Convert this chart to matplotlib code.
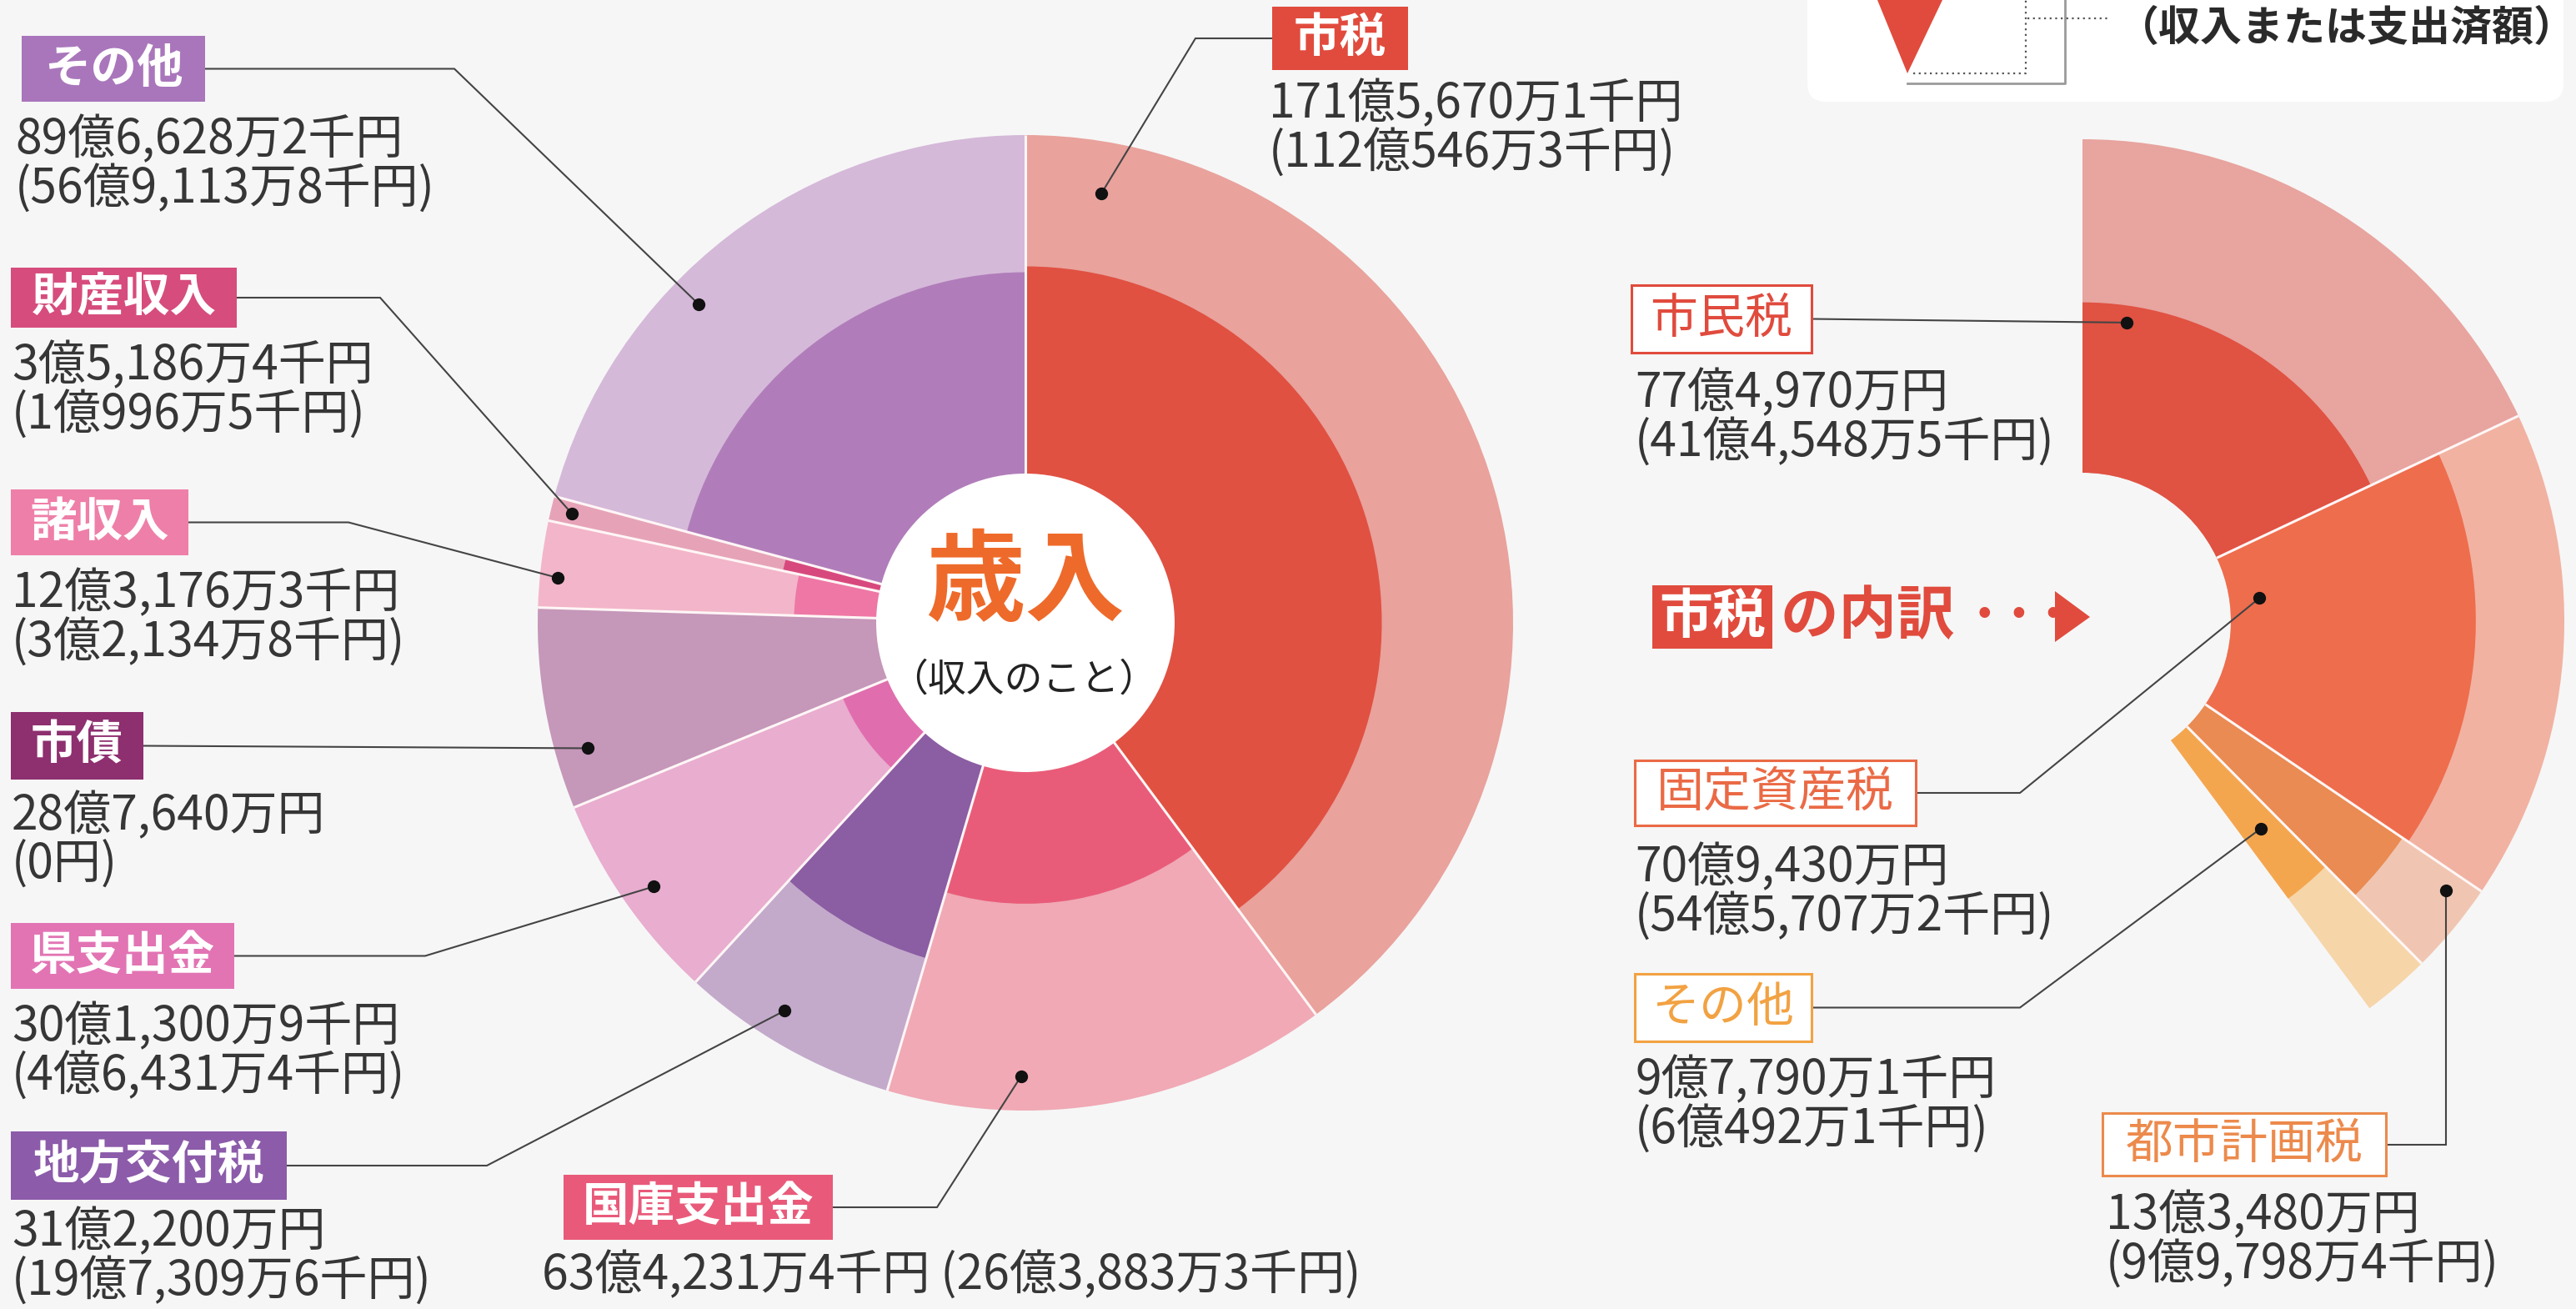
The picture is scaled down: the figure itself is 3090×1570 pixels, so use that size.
import numpy as np
import matplotlib
matplotlib.use("Agg")
import matplotlib.pyplot as plt
from matplotlib.patches import Rectangle, Circle, Polygon, FancyBboxPatch

plt.rcParams['font.family'] = ['Noto Sans CJK JP', 'DejaVu Sans']

# ---------------- data (unit: 千円) ----------------
rev_names = ['市税', '国庫支出金', '地方交付税', '県支出金', '市債', '諸収入', '財産収入', 'その他']
rev_budget = [17156701, 6342314, 3122000, 3013009, 2876400, 1231763, 351864, 8966282]
rev_actual = [11205463, 2638833, 1973096, 464314, 0, 321348, 109965, 5691138]

tax_names = ['市民税', '固定資産税', '都市計画税', 'その他']
tax_budget = [7749700, 7094300, 1334800, 977901]
tax_actual = [4145485, 5457072, 997984, 604921]

# ---------------- styles ----------------
rev_outer_cols = ['#E9A29C', '#F0A9B5', '#C3AACB', '#E8ADCF', '#C597B9', '#F3B5C9', '#E6A3B8', '#D5B9D9']
rev_inner_cols = ['#E05142', '#E95C79', '#8B5DA3', '#E06EAE', '#C597B9', '#EE77A5', '#D7497D', '#B07DBA']
rev_label_cols = ['#E04B3D', '#E95A7A', '#8C5BAA', '#E274B4', '#8E2F6F', '#EE7FA8', '#D64C7D', '#A976BB']

tax_outer_cols = ['#E8A49F', '#F1B2A2', '#F0C6B2', '#F6D5A9']
tax_inner_cols = ['#E05242', '#EE6D4D', '#E98B52', '#F4A64F']
tax_label_cols = ['#E04B3D', '#EA6A45', '#EC8A4C', '#F2A242']

W, H = 3090, 1570
BG = '#F6F6F6'
TXT = '#363636'
LINE = '#444444'


def Y(y):
    return H - y


def fmt(v):
    if v == 0:
        return '0円'
    oku, rest = divmod(v, 100000)
    man, sen = divmod(rest, 10)
    s = ''
    if oku:
        s += f'{oku}億'
    if man:
        s += f'{man:,}万'
    if sen:
        s += f'{sen}千'
    return s + '円'


fig = plt.figure(figsize=(W / 100, H / 100), dpi=100)
fig.patch.set_facecolor(BG)
ax = fig.add_axes([0, 0, 1, 1])
ax.set_facecolor(BG)


def double_ring(values, center, R, r0, R1, outer_cols, inner_cols, ratios, normalize=True, full=True):
    kw = dict(radius=R, center=center, startangle=90, counterclock=False, normalize=normalize)
    outer, _ = ax.pie(values, colors=outer_cols, wedgeprops=dict(width=R - r0, linewidth=0), **kw)
    inner, _ = ax.pie(values, colors=inner_cols, wedgeprops=dict(width=R - r0, linewidth=0), **kw)
    for w, q in zip(inner, ratios):
        r = r0 + q * (R1 - r0)
        w.set_radius(r)
        w.set_width(r - r0)
        if q <= 0:
            w.set_visible(False)
    # separators between wedges
    bounds = [w.theta2 for w in outer] if full else [w.theta1 for w in outer[:-1]]
    for th in bounds:
        t = np.deg2rad(th)
        ax.plot([center[0] + r0 * np.cos(t), center[0] + R * np.cos(t)],
                [center[1] + r0 * np.sin(t), center[1] + R * np.sin(t)],
                color='#FFF6F6', lw=2.2, zorder=2, solid_capstyle='butt')
    return outer


def anchor(w, center, frac, r):
    th = np.deg2rad(w.theta2 - frac * (w.theta2 - w.theta1))
    return center[0] + r * np.cos(th), center[1] + r * np.sin(th)


# ---------------- main pie ----------------
cmain = (1230, Y(747))
Rm, r0m, R1m = 585, 178, 560
rev_ratio = [a / b for a, b in zip(rev_actual, rev_budget)]
main_w = double_ring(rev_budget, cmain, Rm, r0m, R1m, rev_outer_cols, rev_inner_cols, rev_ratio)
ax.add_patch(Circle(cmain, r0m + 1, fc='white', ec='none', zorder=3))
ax.text(cmain[0], Y(700), '歳入', fontsize=86, fontweight='bold', color='#EE6A2A',
        ha='center', va='center', zorder=6)
ax.text(cmain[0] - 2, Y(815), '（収入のこと）', fontsize=33, color='#222222',
        ha='center', va='center', zorder=6)

# ---------------- breakdown pie (市税) ----------------
ctax = (2498, Y(745))
Rt, r0t, R1t = 578, 178, 560
total_rev = sum(rev_budget)
tax_frac = [v / total_rev for v in tax_budget]
tax_ratio = [a / b for a, b in zip(tax_actual, tax_budget)]
tax_w = double_ring(tax_frac, ctax, Rt, r0t, R1t, tax_outer_cols, tax_inner_cols, tax_ratio,
                    normalize=False, full=False)

# ---------------- labels ----------------
LS = 58  # line spacing of value text

rev_box = [(1526, 8, 1689, 84), (676, 1409, 999, 1487), (13, 1357, 344, 1439), (13, 1107, 281, 1186),
           (13, 854, 172, 935), (13, 587, 226, 666), (13, 321, 284, 393), (26, 43, 246, 122)]
rev_val_xy = [(1522, 125), (650, 1529), (14, 1478), (14, 1232), (14, 979), (14, 712), (14, 439), (18, 168)]
rev_elbow = [1434, 1124, 584, 510, None, 418, 456, 545]
rev_anchor = [(0.07, 523), (0.70, 544), (0.59, 548), (0.48, 547), (0.26, 546), (0.36, 564), (0.5, 560), (0.39, 547)]

tax_box = [(1957, 342, 2173, 423), (1961, 912, 2298, 990), (2522, 1335, 2862, 1410), (1961, 1168, 2173, 1249)]
tax_val_xy = [(1961, 472), (1961, 1041), (2526, 1458), (1961, 1296)]
tax_elbow = [None, 2423, 'v', 2423]
tax_anchor = [(0.13, 362), (0.30, 214), (0.22, 543), (0.5, 328)]


def draw_label(name, box, col, filled, vals, vxy, single, elbow, w, center, anc):
    x0, y0, x1, y1 = box
    if filled:
        ax.add_patch(Rectangle((x0, Y(y1)), x1 - x0, y1 - y0, fc=col, ec='none', zorder=5))
        ax.text((x0 + x1) / 2, Y((y0 + y1) / 2), name, fontsize=40, fontweight='bold', color='white',
                ha='center', va='center', zorder=6)
    else:
        ax.add_patch(Rectangle((x0, Y(y1)), x1 - x0, y1 - y0, fc='white', ec=col, lw=2.2, zorder=5))
        ax.text((x0 + x1) / 2, Y((y0 + y1) / 2), name, fontsize=41, color=col,
                ha='center', va='center', zorder=6)
    b, a = vals
    if single:
        ax.text(vxy[0], Y(vxy[1]), f'{fmt(b)} ({fmt(a)})', fontsize=41, color=TXT, ha='left', va='center', zorder=6)
    else:
        ax.text(vxy[0], Y(vxy[1]), fmt(b), fontsize=41, color=TXT, ha='left', va='center', zorder=6)
        ax.text(vxy[0], Y(vxy[1] + LS), f'({fmt(a)})', fontsize=41, color=TXT, ha='left', va='center', zorder=6)
    dx, dy = anchor(w, center, *anc)
    cy = Y((y0 + y1) / 2)
    sx = x0 if dx < x0 else x1
    pts = [(sx, cy)]
    if elbow == 'v':
        pts.append((dx, cy))
    elif elbow is not None:
        pts.append((elbow, cy))
    pts.append((dx, dy))
    xs, ys = zip(*pts)
    ax.plot(xs, ys, color=LINE, lw=1.5, zorder=4, solid_joinstyle='miter')
    ax.plot([dx], [dy], 'o', color='#111111', ms=10, zorder=7)


for i, n in enumerate(rev_names):
    draw_label(n, rev_box[i], rev_label_cols[i], True, (rev_budget[i], rev_actual[i]), rev_val_xy[i],
               n == '国庫支出金', rev_elbow[i], main_w[i], cmain, rev_anchor[i])

for i, n in enumerate(tax_names):
    draw_label(n, tax_box[i], tax_label_cols[i], False, (tax_budget[i], tax_actual[i]), tax_val_xy[i],
               False, tax_elbow[i], tax_w[i], ctax, tax_anchor[i])

# "市税 の内訳 …▶"
RED = '#E04B3D'
ax.add_patch(Rectangle((1982, Y(778)), 144, 76, fc=RED, ec='none', zorder=5))
ax.text(2054, Y(740), '市税', fontsize=46, fontweight='bold', color='white', ha='center', va='center', zorder=6)
ax.text(2136, Y(740), 'の内訳 ···', fontsize=50, fontweight='bold', color=RED, ha='left', va='center', zorder=6)
ax.add_patch(Polygon([(2465, Y(709)), (2465, Y(770)), (2507, Y(740))], closed=True, fc=RED, ec='none', zorder=6))

# ---------------- legend fragment (top right) ----------------
ax.add_patch(FancyBboxPatch((2168, Y(122)), 907, 200, boxstyle='round,pad=0,rounding_size=22',
                            fc='white', ec='none', zorder=4))
ax.add_patch(Polygon([(2252, Y(0)), (2330, Y(0)), (2288, Y(88))], closed=True, fc=RED, ec='none', zorder=5))
ax.plot([2477, 2477, 2288], [Y(0), Y(100), Y(100)], color='#9A9A9A', lw=2, zorder=5)
ax.plot([2295, 2430, 2430], [Y(88), Y(88), Y(0)], color='#555555', lw=1.6, ls=(0, (1, 2)), zorder=5)
ax.plot([2432, 2528], [Y(22), Y(22)], color='#555555', lw=1.6, ls=(0, (1, 2)), zorder=5)
ax.text(2540, Y(34), '（収入または支出済額）', fontsize=36, fontweight='bold', color='#2A2A2A',
        ha='left', va='center', zorder=6)

ax.set_xlim(0, W)
ax.set_ylim(0, H)
ax.set_aspect('equal')
ax.axis('off')
fig.savefig('out.png', dpi=100, facecolor=BG)
